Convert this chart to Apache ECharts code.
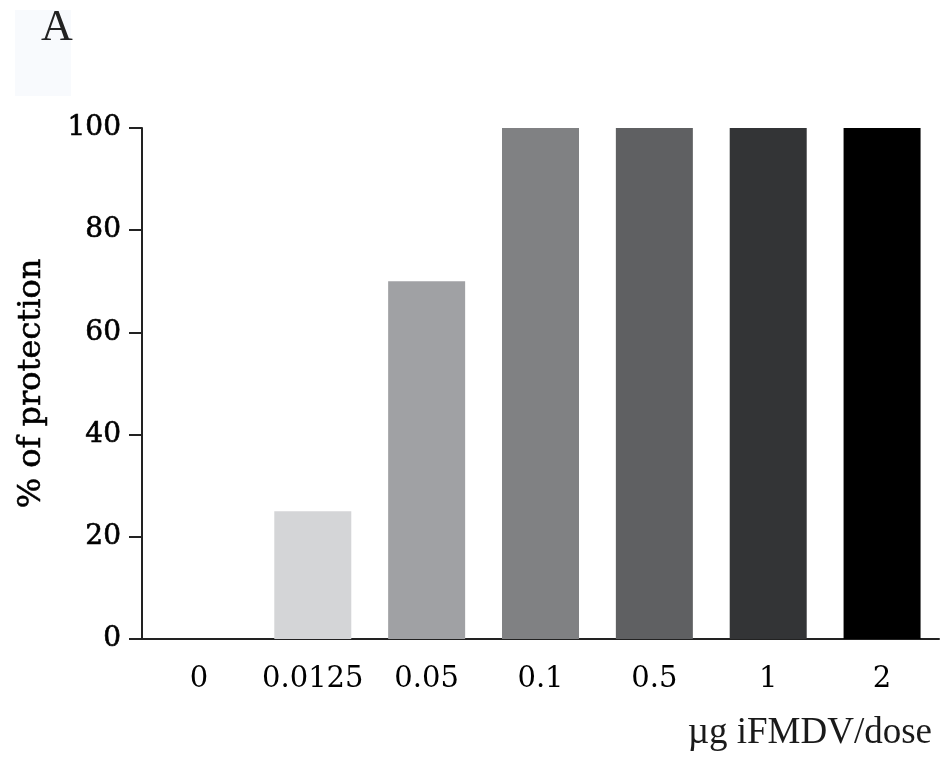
<!DOCTYPE html>
<html>
<head>
<meta charset="utf-8">
<script src="https://cdn.jsdelivr.net/npm/echarts@6/dist/echarts.min.js"></script>
<style>
html, body { margin: 0; padding: 0; background: #fff; }
#chart { width: 946px; height: 758px; }
</style>
</head>
<body>
<div id="chart"></div>
<script>
// 数据
var doses = ['0', '0.0125', '0.05', '0.1', '0.5', '1', '2']
var protection = [0, 25, 70, 100, 100, 100, 100]
var barColors = ['#d4d5d7', '#d4d5d7', '#a0a1a4', '#808183', '#5f6062', '#333436', '#000000']
var yTicks = [0, 20, 40, 60, 80, 100]

var chart = echarts.init(document.getElementById('chart'))

var serif = '"DejaVu Serif", serif'
var times = '"Liberation Serif", "Times New Roman", serif'

chart.setOption({
    backgroundColor: '#ffffff',
    animation: false,
    graphic: [
        {
            type: 'rect',
            shape: { x: 15, y: 10, width: 56, height: 86 },
            style: { fill: '#f8fafd' },
            z: -1
        },
        {
            type: 'text',
            left: 41,
            top: 6,
            style: { text: 'A', font: '44px ' + times, fill: '#222' }
        }
    ],
    grid: {
        left: 142,
        right: 7,
        top: 128,
        bottom: 758 - 639
    },
    xAxis: {
        type: 'category',
        data: doses,
        name: 'µg iFMDV/dose',
        nameLocation: 'end',
        nameGap: 0,
        nameTextStyle: {
            fontFamily: times,
            fontSize: 37,
            color: '#1a1a1a',
            align: 'right',
            verticalAlign: 'top',
            padding: [76, 7, 0, 0]
        },
        axisLine: { lineStyle: { color: '#222', width: 2 } },
        axisTick: { show: false },
        axisLabel: {
            fontFamily: serif,
            fontSize: 29,
            color: '#000',
            margin: 26,
            interval: 0
        }
    },
    yAxis: {
        type: 'value',
        min: 0,
        max: 100,
        interval: 20,
        name: '% of protection',
        nameLocation: 'middle',
        nameGap: 94,
        nameTextStyle: {
            fontFamily: serif,
            fontSize: 32,
            color: '#000',
            textBorderColor: '#000',
            textBorderWidth: 0.5
        },
        axisLine: { show: true, lineStyle: { color: '#222', width: 2 } },
        axisTick: { show: true, length: 13, lineStyle: { color: '#222', width: 2 } },
        splitLine: { show: false },
        axisLabel: {
            fontFamily: serif,
            fontSize: 28,
            color: '#000',
            textBorderColor: '#000',
            textBorderWidth: 0.6,
            margin: 21,
            customValues: yTicks
        }
    },
    series: [{
        type: 'bar',
        barWidth: 77,
        data: protection.map(function (v, i) {
            return { value: v, itemStyle: { color: barColors[i] } }
        })
    }]
})
</script>
</body>
</html>
